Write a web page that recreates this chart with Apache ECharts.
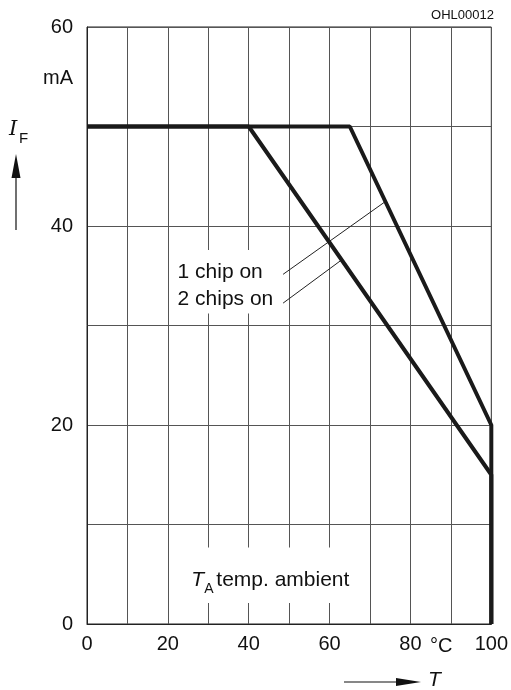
<!DOCTYPE html>
<html>
  <head>
    <meta charset="UTF-8" />
    <title>IF vs TA</title>
    <style>
      html, body { margin: 0; padding: 0; background: #fff; }
      #chart { width: 511px; height: 690px; }
    </style>
    <script src="https://cdn.jsdelivr.net/npm/echarts@6/dist/echarts.min.js"></script>
  </head>
  <body>
    <div id="chart"></div>
    <script>
      // curves (T in degC, IF in mA)
      const chip1 = [[0, 50], [65, 50], [100, 20], [100, 0]];
      const chip2 = [[0, 50], [40, 50], [100, 15], [100, 0]];
      // leader lines from labels to curves
      const leader1 = [[48, 35], [73.6, 42.4]];
      const leader2 = [[48, 32.1], [63, 36.6]];
      const xLabels = [0, 20, 40, 60, 80, 100];
      const yLabels = [0, 20, 40, 60];

      const font = '"Liberation Sans", Arial, sans-serif';
      const chart = echarts.init(document.getElementById('chart'));

      chart.setOption({
        animation: false,
        backgroundColor: '#fff',
        grid: {
          left: 87, right: 18, top: 27, bottom: 66,
          show: true, borderColor: '#222', borderWidth: 1
        },
        xAxis: {
          type: 'value', min: 0, max: 100, interval: 10,
          axisLine: { show: true, onZero: false, lineStyle: { color: '#222', width: 1 } },
          axisTick: { show: false },
          splitLine: { show: true, lineStyle: { color: '#555', width: 1 } },
          axisLabel: {
            color: '#111', fontSize: 20, fontFamily: font, margin: 10,
            formatter: v => xLabels.includes(v) ? String(v) : ''
          }
        },
        yAxis: {
          type: 'value', min: 0, max: 60, interval: 10,
          axisLine: { show: true, onZero: false, lineStyle: { color: '#222', width: 1 } },
          axisTick: { show: false },
          splitLine: { show: true, lineStyle: { color: '#555', width: 1 } },
          axisLabel: {
            color: '#111', fontSize: 20, fontFamily: font, margin: 14,
            formatter: v => yLabels.includes(v) ? String(v) : ''
          }
        },
        series: [
          {
            name: '1 chip on', type: 'line', data: chip1, symbol: 'none', z: 5,
            lineStyle: { color: '#1a1a1a', width: 4 }
          },
          {
            name: '2 chips on', type: 'line', data: chip2, symbol: 'none', z: 5,
            lineStyle: { color: '#1a1a1a', width: 4 }
          },
          {
            type: 'line', data: leader1, symbol: 'none', z: 4,
            lineStyle: { color: '#222', width: 1 }
          },
          {
            type: 'line', data: leader2, symbol: 'none', z: 4,
            lineStyle: { color: '#222', width: 1 }
          }
        ]
      });

      // annotations placed through the grid's own scale
      const px = p => chart.convertToPixel({ gridIndex: 0 }, p);
      const box1a = px([21.5, 37.6]), box1b = px([48.5, 31.2]);
      const box2a = px([24.5, 7.7]), box2b = px([65.5, 2.1]);
      const lab1 = px([22.4, 35.4]), lab2 = px([22.4, 32.6]);
      const labT = px([25.8, 4.4]);

      const txt = (x, y, text, opt) => Object.assign({
        type: 'text', x, y, z: 20,
        style: Object.assign({
          text, fill: '#111', fontSize: 21, fontFamily: font,
          textVerticalAlign: 'middle', textAlign: 'left'
        }, opt || {})
      });

      chart.setOption({
        graphic: [
          { type: 'rect', z: 10, shape: { x: box1a[0], y: box1a[1], width: box1b[0] - box1a[0], height: box1b[1] - box1a[1] }, style: { fill: '#fff' } },
          { type: 'rect', z: 10, shape: { x: box2a[0], y: box2a[1], width: box2b[0] - box2a[0], height: box2b[1] - box2a[1] }, style: { fill: '#fff' } },
          txt(lab1[0], lab1[1], '1 chip on'),
          txt(lab2[0], lab2[1], '2 chips on'),
          txt(labT[0], labT[1], 'T', { fontStyle: 'italic' }),
          txt(labT[0] + 13, labT[1] + 9, 'A', { fontSize: 14 }),
          txt(labT[0] + 25, labT[1], 'temp. ambient'),
          // y axis title
          txt(73, 78, 'mA', { textAlign: 'right', fontSize: 20 }),
          txt(9, 130, 'I', { fontStyle: 'italic', fontSize: 21, fontFamily: '"DejaVu Serif", serif' }),
          txt(19, 139, 'F', { fontSize: 15 }),
          { type: 'line', z: 20, shape: { x1: 16, y1: 230, x2: 16, y2: 172 }, style: { stroke: '#111', lineWidth: 1.2 } },
          { type: 'polygon', z: 20, shape: { points: [[16, 154], [11.5, 178], [20.5, 178]] }, style: { fill: '#111' } },
          // x axis title
          txt(430, 646, '°C', { fontSize: 20 }),
          { type: 'line', z: 20, shape: { x1: 344, y1: 682, x2: 400, y2: 682 }, style: { stroke: '#111', lineWidth: 1.2 } },
          { type: 'polygon', z: 20, shape: { points: [[421, 682], [396, 678], [396, 686]] }, style: { fill: '#111' } },
          txt(428, 680, 'T', { fontStyle: 'italic', fontSize: 21 }),
          // drawing number
          txt(494, 15, 'OHL00012', { textAlign: 'right', fontSize: 13 })
        ]
      });
    </script>
  </body>
</html>
